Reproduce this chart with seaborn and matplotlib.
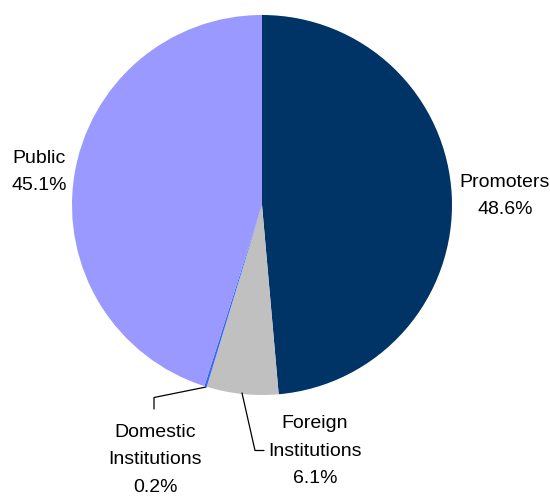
import matplotlib
matplotlib.use("Agg")
import matplotlib.pyplot as plt
import seaborn as sns

# Shareholding pattern
categories = ["Promoters", "Foreign\nInstitutions", "Domestic\nInstitutions", "Public"]
shares = [48.6, 6.1, 0.2, 45.1]
colors = ["#003366", "#C0C0C0", "#3366FF", "#9999FF"]

sns.set_theme(style="white")
plt.rcParams["font.family"] = ["Liberation Sans", "DejaVu Sans"]

fig = plt.figure(figsize=(5.5, 4.96), dpi=100)
R = 190
cx, cy = 262, 205
ax = fig.add_axes([(cx - R) / 550, 1 - (cy + R) / 496, 2 * R / 550, 2 * R / 496])

ax.pie(shares, colors=colors, startangle=90, counterclock=False,
       wedgeprops=dict(linewidth=0), radius=1)
ax.set_xlim(-1, 1)
ax.set_ylim(-1, 1)
ax.set_aspect("equal")
ax.axis("off")


def to_data(px, py):
    return (px - cx) / R, (cy - py) / R


label_pos = [(505, 196), (315, 451), (155, 460), (39, 172)]
for name, val, (px, py) in zip(categories, shares, label_pos):
    x, y = to_data(px, py)
    ax.text(x, y, f"{name}\n{val}%", ha="center", va="center", fontsize=14,
            color="black", linespacing=1.8, clip_on=False)

# leader lines for the two small slices
leaders = [
    [(242, 393), (255, 450.5), (264, 450.5)],
    [(206, 387), (154, 397.5), (154, 409)],
]
for pts in leaders:
    xs, ys = zip(*[to_data(p, q) for p, q in pts])
    ax.plot(xs, ys, color="black", linewidth=0.9, clip_on=False)

fig.savefig("out.png", dpi=100)
